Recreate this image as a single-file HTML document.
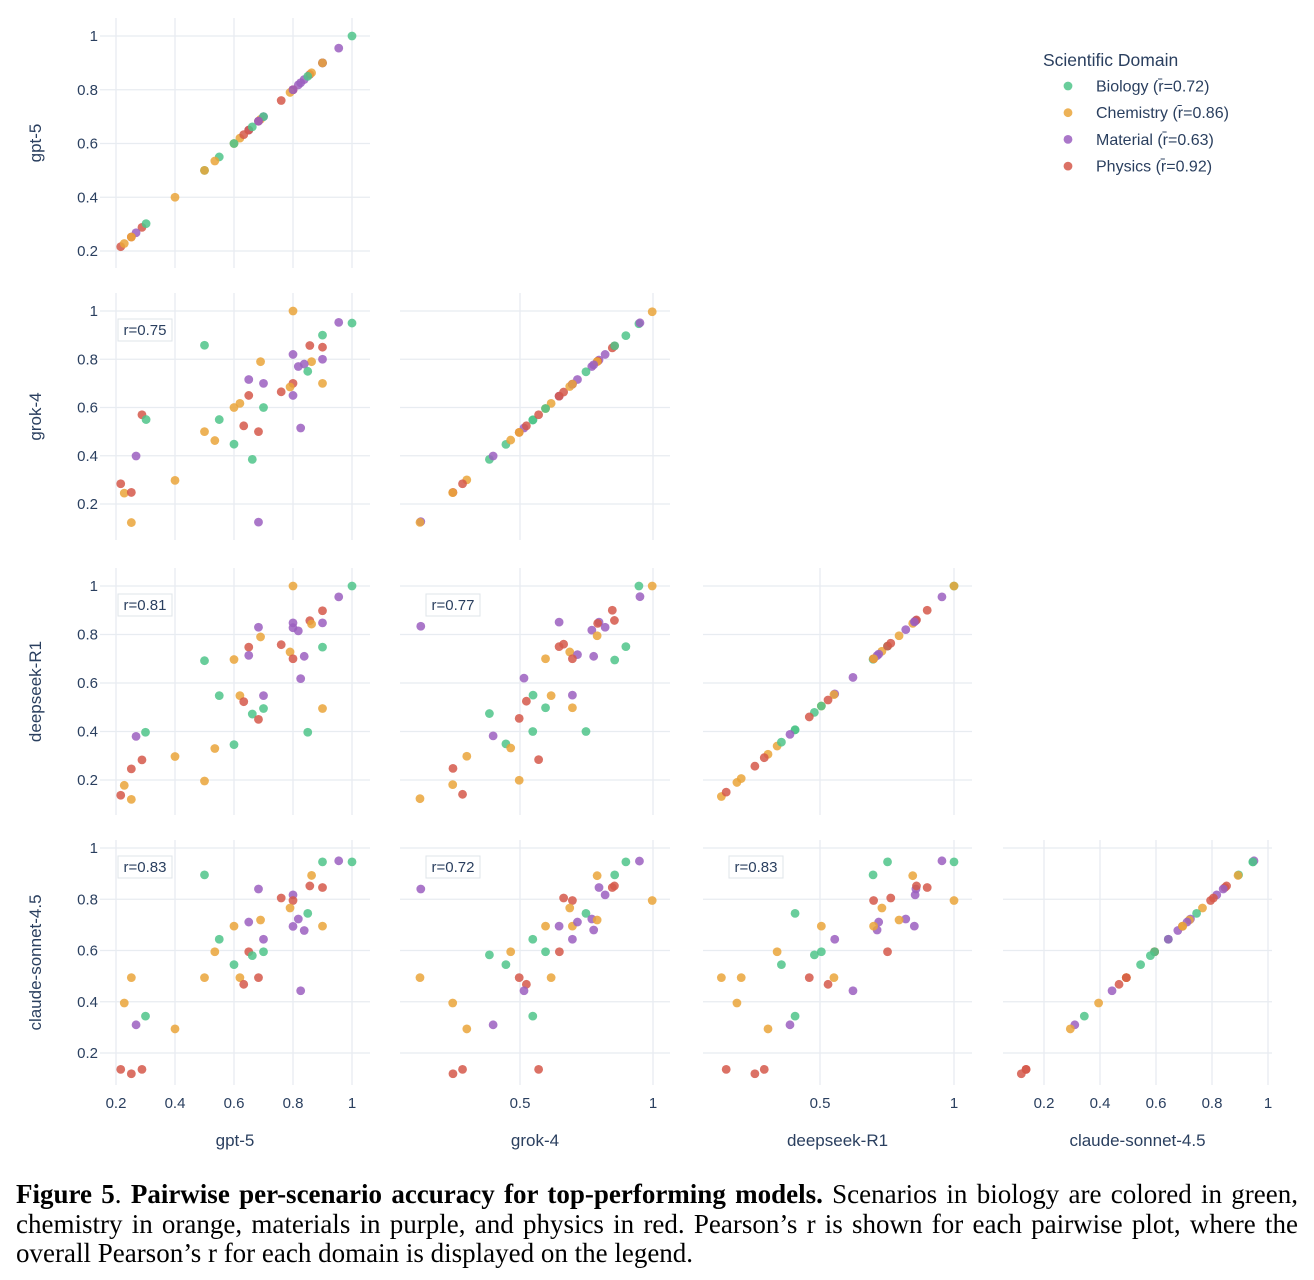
<!DOCTYPE html>
<html><head><meta charset="utf-8">
<style>
body{margin:0;background:#fff;width:1314px;height:1280px;overflow:hidden;position:relative}
svg{position:absolute;left:0;top:0}
#caption{position:absolute;left:16px;top:1180px;width:1282px;font-family:"Liberation Serif",serif;font-size:27px;line-height:29.5px;color:#000}
#caption .j{display:block;text-align:justify;text-align-last:justify;white-space:nowrap}
#caption .l{display:block;white-space:nowrap}
</style></head><body>
<svg id="chart" width="1314" height="1170" font-family="Liberation Sans, sans-serif"></svg>
<div id="caption"><span class="j"><b>Figure 5</b>. <b>Pairwise per-scenario accuracy for top-performing models.</b> Scenarios in biology are colored in green,</span><span class="j">chemistry in orange, materials in purple, and physics in red. Pearson’s r is shown for each pairwise plot, where the</span><span class="l">overall Pearson’s r for each domain is displayed on the legend.</span></div>
<script>
// ---- data ----
const models = ["gpt-5","grok-4","deepseek-R1","claude-sonnet-4.5"];
const domains = ["Biology","Chemistry","Material","Physics"];
const legendLabels = ["Biology (r̄=0.72)","Chemistry (r̄=0.86)","Material (r̄=0.63)","Physics (r̄=0.92)"];
const pairR = {"1-0":"r=0.75","2-0":"r=0.81","2-1":"r=0.77","3-0":"r=0.83","3-1":"r=0.72","3-2":"r=0.83"};
const colTicks = [[0.2,0.4,0.6,0.8,1],[0.5,1],[0.5,1],[0.2,0.4,0.6,0.8,1]];
const rowTicks = [[0.2,0.4,0.6,0.8,1],[0.2,0.4,0.6,0.8,1],[0.2,0.4,0.6,0.8,1],[0.2,0.4,0.6,0.8,1]];
// panel grok(y) vs gpt-5(x)
const p10x=[0.8,0.955,1.0,0.9,0.857,0.9,0.5,0.8,0.69,0.863,0.9,0.818,0.838,0.85,0.65,0.7,0.9,0.8,0.79,0.76,0.65,0.8,0.6,0.62,0.7,0.288,0.302,0.55,0.633,0.826,0.5,0.683,0.535,0.6,0.662,0.268,0.4,0.216,0.228,0.252,0.252,0.683];
const p10y=[1.0,0.953,0.95,0.9,0.857,0.85,0.858,0.82,0.79,0.79,0.8,0.77,0.78,0.75,0.716,0.7,0.7,0.7,0.685,0.665,0.65,0.65,0.6,0.617,0.6,0.57,0.55,0.55,0.524,0.515,0.5,0.5,0.463,0.448,0.385,0.399,0.298,0.284,0.245,0.248,0.123,0.125];
const p10d="CMBBPPBMCCMMMBMMCPCPPMCCBPBBPMCPCBBMCPCPCM";
// deepseek(y) vs gpt-5(x)
const p20x=[0.8,1.0,0.955,0.9,0.857,0.863,0.8,0.8,0.818,0.9,0.683,0.69,0.76,0.65,0.65,0.9,0.79,0.8,0.838,0.5,0.6,0.826,0.55,0.62,0.7,0.633,0.662,0.7,0.683,0.9,0.3,0.268,0.85,0.6,0.535,0.4,0.288,0.252,0.5,0.228,0.216,0.252];
const p20y=[1.0,1.0,0.955,0.898,0.857,0.843,0.848,0.828,0.815,0.848,0.83,0.79,0.758,0.748,0.714,0.748,0.728,0.7,0.71,0.692,0.697,0.618,0.548,0.548,0.548,0.523,0.472,0.495,0.45,0.495,0.397,0.38,0.397,0.346,0.33,0.297,0.283,0.246,0.196,0.178,0.137,0.12];
const p20d="CBMPPCMMMMMCPPMBCPMBCMBCMPBBPCBMBBCCPPCCPC";
// claude(y) vs gpt-5(x)
const p30x=[0.9,0.955,1.0,0.5,0.863,0.857,0.9,0.683,0.8,0.8,0.76,0.79,0.85,0.818,0.8,0.838,0.9,0.69,0.65,0.6,0.55,0.7,0.535,0.65,0.662,0.7,0.6,0.252,0.5,0.62,0.683,0.633,0.826,0.228,0.3,0.268,0.4,0.216,0.252,0.288];
const p30y=[0.946,0.95,0.946,0.895,0.893,0.852,0.846,0.84,0.817,0.795,0.805,0.766,0.745,0.723,0.694,0.678,0.695,0.719,0.711,0.695,0.644,0.644,0.595,0.595,0.58,0.595,0.545,0.494,0.494,0.494,0.494,0.468,0.443,0.395,0.344,0.31,0.294,0.136,0.119,0.136];
const p30d="BMBBCPPMMPPCBMMMCCMCBMCPBBBCCCPPMCBMCPPP";
// deepseek(y) vs grok(x)
const p21x=[0.947,0.997,0.951,0.847,0.855,0.127,0.647,0.797,0.792,0.77,0.82,0.79,0.647,0.664,0.687,0.716,0.697,0.596,0.777,0.898,0.856,0.515,0.549,0.617,0.697,0.524,0.596,0.697,0.385,0.497,0.548,0.748,0.399,0.447,0.465,0.3,0.248,0.57,0.247,0.497,0.284,0.124];
const p21y=[1.0,1.0,0.956,0.9,0.858,0.834,0.851,0.851,0.846,0.818,0.83,0.795,0.75,0.76,0.728,0.717,0.7,0.7,0.71,0.75,0.695,0.62,0.55,0.548,0.55,0.525,0.498,0.498,0.474,0.454,0.4,0.4,0.382,0.349,0.332,0.298,0.248,0.284,0.181,0.199,0.141,0.123];
const p21d="BCMPPMMMPMMCPPCMPCMBBMBCMPBCBPBBMBCCPPCCPC";
// claude(y) vs grok(x)
const p31x=[0.898,0.949,0.127,0.79,0.856,0.797,0.847,0.855,0.82,0.664,0.697,0.687,0.997,0.748,0.77,0.79,0.596,0.647,0.697,0.716,0.777,0.548,0.697,0.385,0.465,0.596,0.648,0.447,0.124,0.497,0.524,0.515,0.617,0.247,0.548,0.399,0.3,0.248,0.284,0.57];
const p31y=[0.946,0.949,0.84,0.892,0.895,0.846,0.846,0.852,0.817,0.805,0.795,0.766,0.795,0.745,0.723,0.719,0.695,0.695,0.695,0.711,0.68,0.644,0.644,0.583,0.595,0.595,0.595,0.545,0.494,0.494,0.468,0.443,0.494,0.395,0.344,0.31,0.294,0.119,0.136,0.136];
const p31d="BMMCBMPPMPPCCBMCCMCMMBMBCBPBCPPMCCBMCPPP";
// claude(y) vs deepseek(x)
const p32x=[0.752,0.955,1.0,0.698,0.846,0.858,0.855,0.86,0.9,0.7,0.764,0.731,1.0,0.407,0.82,0.795,0.719,0.713,0.7,0.852,0.505,0.555,0.34,0.479,0.505,0.752,0.356,0.132,0.206,0.46,0.552,0.53,0.623,0.19,0.407,0.388,0.306,0.15,0.257,0.292];
const p32y=[0.946,0.95,0.946,0.895,0.892,0.84,0.817,0.852,0.846,0.795,0.805,0.766,0.795,0.745,0.723,0.719,0.711,0.68,0.695,0.695,0.695,0.644,0.595,0.583,0.595,0.595,0.545,0.494,0.494,0.494,0.494,0.468,0.443,0.395,0.344,0.31,0.294,0.136,0.119,0.136];
const p32d="BMBBCMMPPPPCCBMCMMCMCMCBBPBCCPCPMCBMCPPP";
const panels={"1-0":[p10x,p10y,p10d],"2-0":[p20x,p20y,p20d],"3-0":[p30x,p30y,p30d],"2-1":[p21x,p21y,p21d],"3-1":[p31x,p31y,p31d],"3-2":[p32x,p32y,p32d]};
// diagonal values from panels
const diag=[[p10x,p10d],[p21x,p21d],[p32x,p32d],[p30y,p30d]];

// ---- layout ----
const colColor={B:"#4fc48a",C:"#eaa53a",M:"#9b5fbf",P:"#d5584a"};
const colRef=[[0.2,116,1,352],[0.5,520,1,653],[0.5,820,1,954],[0.2,1044,1,1268]];
const rowRef=[[0.2,251,1,36],[0.2,504,1,311],[0.2,780,1,586],[0.2,1053,1,848]];
const colExt=[[100,370],[400,670],[703,972],[1003,1272]];
const rowExt=[[18,268],[293,540],[568,815],[840,1085]];
function sx(c,v){const r=colRef[c];return r[1]+(v-r[0])*(r[3]-r[1])/(r[2]-r[0]);}
function sy(r,v){const q=rowRef[r];return q[1]+(v-q[0])*(q[3]-q[1])/(q[2]-q[0]);}
const svg=document.getElementById('chart');
const NS="http://www.w3.org/2000/svg";
function mk(tag,attrs,parent){const e=document.createElementNS(NS,tag);for(const k in attrs)e.setAttribute(k,attrs[k]);(parent||svg).appendChild(e);return e;}
function fmt(v){return v===1?"1":String(v);}

for(let r=0;r<4;r++){
  for(let c=0;c<=r;c++){
    const g=mk('g',{});
    
    
    colTicks[c].forEach(v=>{const l=mk('line',{x1:sx(c,v),x2:sx(c,v),y1:rowExt[r][0],y2:rowExt[r][1],stroke:"#e8ecf1","stroke-width":1.3},g);
      });
    rowTicks[r].forEach(v=>{const l=mk('line',{x1:colExt[c][0],x2:colExt[c][1],y1:sy(r,v),y2:sy(r,v),stroke:"#e8ecf1","stroke-width":1.3},g);
      });
    let xs,ys,ds;
    if(r===c){xs=diag[c][0];ys=diag[c][0];ds=diag[c][1];}
    else{[xs,ys,ds]=panels[r+"-"+c];}
    for(let i=0;i<xs.length;i++){
      const p=mk('circle',{cx:sx(c,xs[i]),cy:sy(r,ys[i]),r:4.4,fill:colColor[ds[i]],"fill-opacity":0.85},g);
      
      
    }
    if(r!==c){
      const bx=colExt[c][0]+(c===0?18:26), by=rowRef[r][3]+8;
      const bg=mk('g',{},g);
      
      
      mk('rect',{x:bx,y:by,width:54,height:22,fill:"#fff",stroke:"#dfe4ea","stroke-width":1},bg);
      const t=mk('text',{x:bx+27,y:by+16,"text-anchor":"middle","font-size":15,fill:"#2a3f5f"},bg);
      t.textContent=pairR[r+"-"+c];
    }
  }
}
// y tick labels
for(let r=0;r<4;r++){
  rowTicks[r].forEach(v=>{const t=mk('text',{x:98,y:sy(r,v)+5,"text-anchor":"end","font-size":15,fill:"#2a3f5f"});
    t.textContent=fmt(v);});
  const yc=(rowExt[r][0]+rowExt[r][1])/2;
  const t=mk('text',{x:0,y:0,transform:`translate(41,${yc}) rotate(-90)`,"text-anchor":"middle","font-size":17,fill:"#2a3f5f"});
  t.textContent=models[r];
}
// x tick labels & titles
for(let c=0;c<4;c++){
  colTicks[c].forEach(v=>{const t=mk('text',{x:sx(c,v),y:1108,"text-anchor":"middle","font-size":15,fill:"#2a3f5f"});
    t.textContent=fmt(v);});
  const xc=(colExt[c][0]+colExt[c][1])/2;
  const t=mk('text',{x:xc,y:1146,"text-anchor":"middle","font-size":17,fill:"#2a3f5f"});
  t.textContent=models[c];
}
// legend
const lg=mk('g',{});


const lt=mk('text',{x:1043,y:66,"font-size":17.5,fill:"#2a3f5f"},lg);
lt.textContent="Scientific Domain";


legendLabels.forEach((s,i)=>{
  const e=mk('g',{},lg);
  
  
  const y=86+i*26.7;
  mk('circle',{cx:1068,cy:y,r:4.4,fill:colColor["BCMP"[i]],"fill-opacity":0.85},e);
  const t=mk('text',{x:1096,y:y+5.5,"font-size":16,fill:"#2a3f5f"},e);t.textContent=s;
});
</script>
</body></html>
